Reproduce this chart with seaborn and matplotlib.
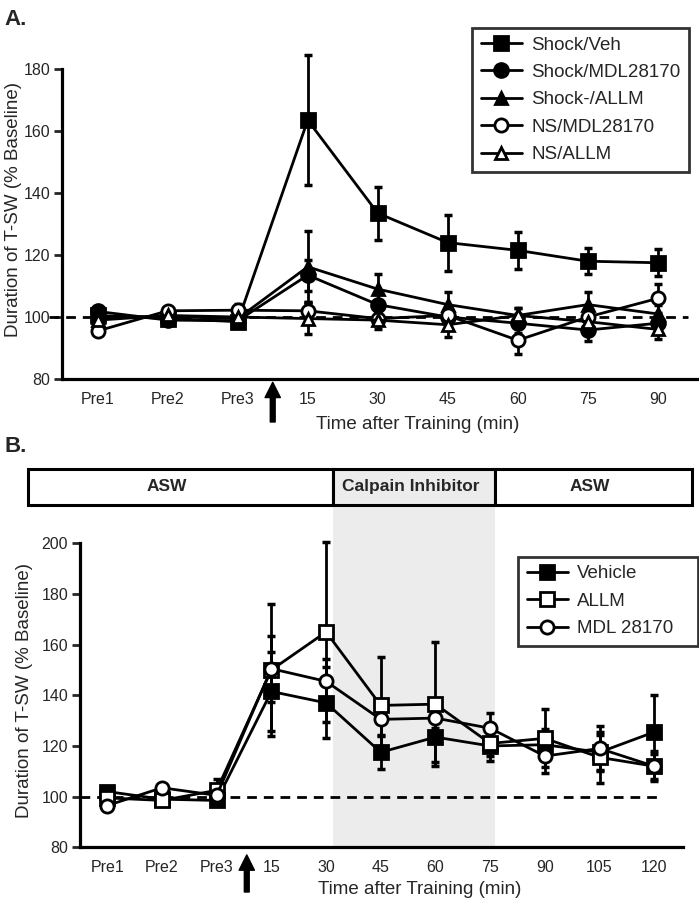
import numpy as np
import matplotlib
matplotlib.use('Agg')
import matplotlib.pyplot as plt
from matplotlib.patches import Rectangle
import matplotlib.transforms as mtransforms
import seaborn as sns

# panel A data
a_labels = ['Pre1', 'Pre2', 'Pre3', '15', '30', '45', '60', '75', '90']
shock_veh = [100.5, 99.5, 98.5, 163.5, 133.5, 124, 121.5, 118, 117.5]
shock_veh_err = [1.5, 1, 1, 21, 8.5, 9, 6, 4.2, 4.3]
shock_mdl = [101.8, 99, 98.8, 113.5, 104, 100, 98, 95.8, 98]
shock_mdl_err = [1, 1, 1, 5, 4, 3, 3, 3.5, 2.5]
shock_allm = [100, 100.2, 99.5, 116.2, 109, 104, 100.5, 104, 101]
shock_allm_err = [1, 1, 1, 11.5, 5, 4, 2.5, 4, 3]
ns_mdl = [95.5, 102, 102.2, 102, 99.5, 100.5, 92.5, 100, 106]
ns_mdl_err = [1, 1, 2, 3, 2, 3, 4.4, 3, 4.8]
ns_allm = [99, 100.5, 100, 99.5, 99, 97.5, 100.5, 98.5, 96]
ns_allm_err = [1, 1, 1, 5, 3, 4, 2.5, 3, 3]

# panel B data
b_labels = ['Pre1', 'Pre2', 'Pre3', '15', '30', '45', '60', '75', '90', '105', '120']
vehicle = [102, 99, 98.5, 141.5, 137, 117.5, 123.5, 120, 120.5, 117.5, 125.5]
vehicle_err = [1.5, 1.5, 1.5, 15.5, 14, 6.5, 10, 6, 6, 7, 14.5]
allm = [99.5, 98.5, 102.5, 150, 165, 136, 136.5, 121, 123, 115.5, 112]
allm_err = [2, 2, 4.5, 26, 35.5, 19, 24.5, 5, 11.5, 10, 6]
mdl = [96.5, 103.5, 100.5, 150.5, 145.5, 130.5, 131, 127, 116, 119, 112]
mdl_err = [1.5, 1.5, 2, 13, 9, 6, 4, 6, 6.5, 9, 5]

sns.set_style('white')
plt.rcParams['font.family'] = ['Liberation Sans', 'DejaVu Sans']

fig = plt.figure(figsize=(6.99, 8.99), dpi=100)
axA = fig.add_axes([0.0887, 0.5784, 0.9084, 0.3621])
axB = fig.add_axes([0.1144, 0.0575, 0.8622, 0.3382])


def draw_series(ax, y, err, marker, filled, ms, label):
    x = np.arange(len(y))
    ax.errorbar(x, y, yerr=err, fmt='none', ecolor='black', elinewidth=2,
                capsize=3, capthick=2.5, zorder=2, clip_on=False)
    sns.lineplot(x=x, y=y, ax=ax, color='black', lw=2, marker=marker,
                 markersize=ms, markerfacecolor='black' if filled else 'white',
                 markeredgecolor='black', markeredgewidth=2, label=label,
                 zorder=3, clip_on=False)


def style_axis(ax, labels, ymax, xlim):
    ax.set_xticks(range(len(labels)))
    ax.set_xticklabels(labels)
    ax.set_xlim(*xlim)
    for s in ['top', 'right']:
        ax.spines[s].set_visible(False)
    for s in ['left', 'bottom']:
        ax.spines[s].set_linewidth(2.3)
        ax.spines[s].set_color('black')
    ax.spines['left'].set_bounds(80, ymax)
    ax.tick_params(axis='x', length=0, pad=9, labelsize=11.5)
    ax.tick_params(axis='y', direction='out', length=5.5, width=2,
                   labelsize=11.5, pad=3, left=True)
    ax.set_xlabel('Time after Training (min)', fontsize=13.5)
    ax.set_ylabel('Duration of T-SW (% Baseline)', fontsize=13.5)
    ax.set_facecolor('none')


def make_legend(ax, anchor, **kw):
    leg = ax.legend(bbox_to_anchor=anchor, bbox_transform=fig.transFigure,
                    fontsize=13.5, frameon=True, fancybox=False, edgecolor='black',
                    handlelength=2.2, handletextpad=0.5, labelspacing=0.55,
                    borderpad=0.45, borderaxespad=0, **kw)
    leg.get_frame().set_linewidth(2)
    return leg


# ---- panel A
axA.plot([-0.69, 8.43], [100, 100], ls=(0, (3.5, 2.5)), color='black', lw=2, zorder=1, clip_on=False)
draw_series(axA, shock_veh, shock_veh_err, 's', True, 10.5, 'Shock/Veh')
draw_series(axA, shock_mdl, shock_mdl_err, 'o', True, 10, 'Shock/MDL28170')
draw_series(axA, shock_allm, shock_allm_err, '^', True, 9, 'Shock-/ALLM')
draw_series(axA, ns_mdl, ns_mdl_err, 'o', False, 9.5, 'NS/MDL28170')
draw_series(axA, ns_allm, ns_allm_err, '^', False, 8.5, 'NS/ALLM')
axA.set_ylim(80, 185)
axA.set_yticks([80, 100, 120, 140, 160, 180])
style_axis(axA, a_labels, 180, (-0.51, 8.56))
axA.xaxis.set_label_coords(0.56, -0.115)
axA.yaxis.set_label_coords(-0.063, 0.52)
make_legend(axA, (689 / 699, 1 - 28 / 899), loc='upper right')
axA.annotate('', xy=(2.5, -0.01), xytext=(2.5, -0.132),
             xycoords=('data', 'axes fraction'), textcoords=('data', 'axes fraction'),
             arrowprops=dict(facecolor='black', edgecolor='black', width=3.5,
                             headwidth=11, headlength=11, shrink=0), annotation_clip=False)
fig.text(0.006, 1 - 25 / 899, 'A.', fontsize=16, fontweight='bold', va='baseline')

# ---- panel B
bt = mtransforms.blended_transform_factory(axB.transData, axB.transAxes)
axB.add_patch(Rectangle((4.12, 0), 2.96, 1.126, transform=bt, facecolor='#ececec',
                        edgecolor='none', zorder=0, clip_on=False))
axB.plot([-0.5, 10.07], [100, 100], ls=(0, (3.5, 2.5)), color='black', lw=2, zorder=1, clip_on=False)
draw_series(axB, vehicle, vehicle_err, 's', True, 10.5, 'Vehicle')
draw_series(axB, allm, allm_err, 's', False, 9.5, 'ALLM')
draw_series(axB, mdl, mdl_err, 'o', False, 9.5, 'MDL 28170')
axB.set_ylim(80, 200)
axB.set_yticks([80, 100, 120, 140, 160, 180, 200])
style_axis(axB, b_labels, 200, (-0.5, 10.52))
axB.xaxis.set_label_coords(0.564, -0.11)
axB.yaxis.set_label_coords(-0.078, 0.517)
make_legend(axB, (518.3 / 699, 1 - 644.3 / 899, 179.4 / 699, 87.6 / 899),
            loc='upper left', mode='expand')
axB.annotate('', xy=(2.55, -0.025), xytext=(2.55, -0.147),
             xycoords=('data', 'axes fraction'), textcoords=('data', 'axes fraction'),
             arrowprops=dict(facecolor='black', edgecolor='black', width=3.5,
                             headwidth=11, headlength=11, shrink=0), annotation_clip=False)

# treatment header boxes
boxes = [(-1.444, 4.12, 'white', 'ASW', 1.09),
         (4.12, 7.08, '#ececec', 'Calpain Inhibitor', 5.55),
         (7.08, 10.70, 'white', 'ASW', 8.82)]
for x0, x1, fc, txt, tx in boxes:
    axB.add_patch(Rectangle((x0, 1.126), x1 - x0, 0.117, transform=bt, facecolor=fc,
                            edgecolor='black', lw=2.2, clip_on=False, zorder=1))
    axB.text(tx, 1.186, txt, transform=bt, ha='center', va='center',
             fontsize=12.5, fontweight='bold')
fig.text(0.006, 1 - 452 / 899, 'B.', fontsize=16, fontweight='bold', va='baseline')

fig.savefig('out.png', dpi=100)
